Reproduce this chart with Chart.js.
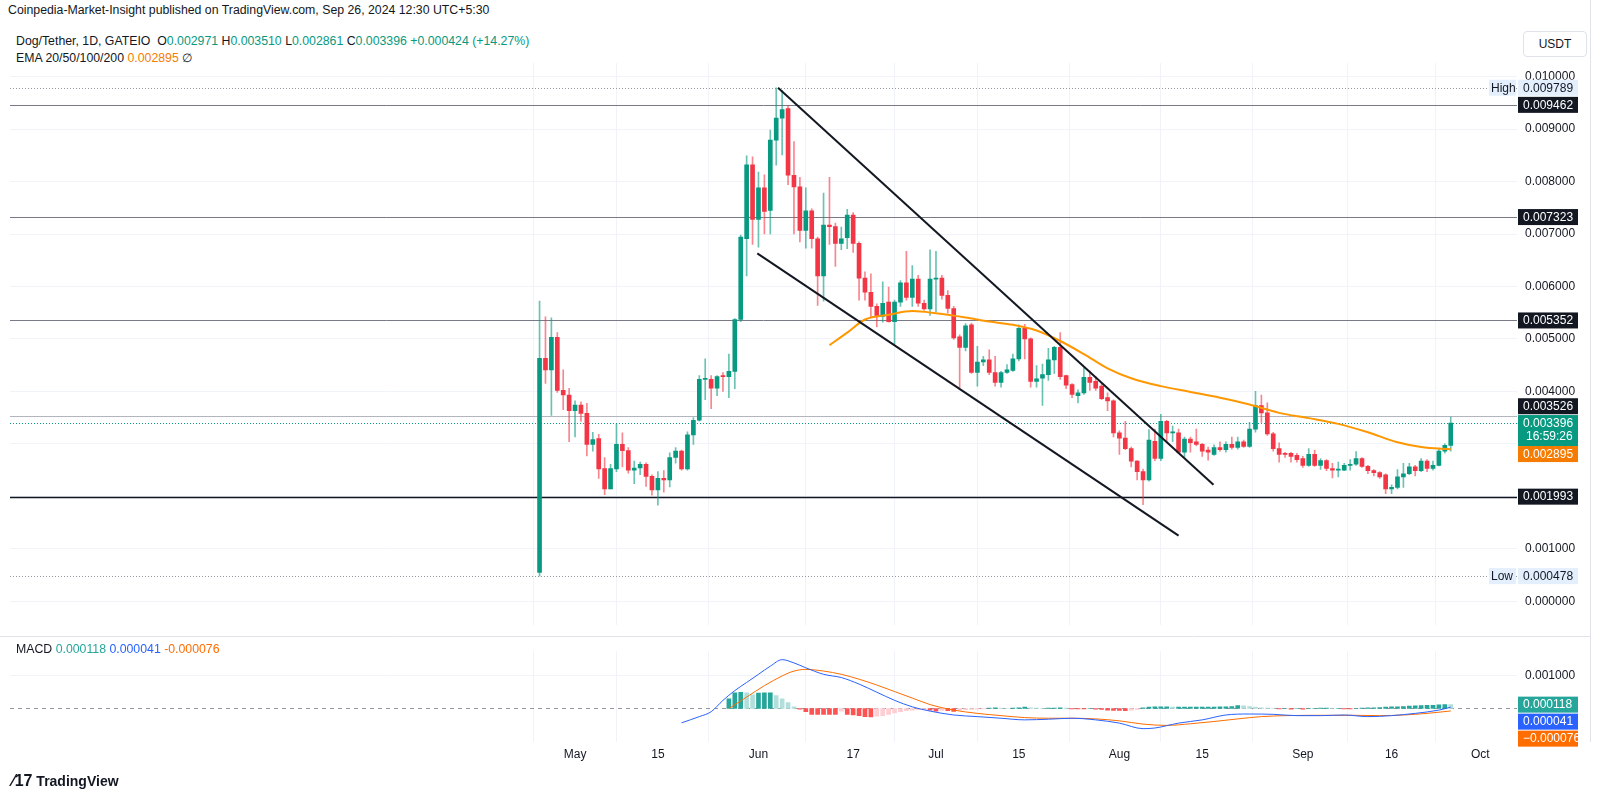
<!DOCTYPE html>
<html><head><meta charset="utf-8">
<script src="https://cdn.jsdelivr.net/npm/chart.js@4.4.1/dist/chart.umd.min.js"></script>
<style>
body{margin:0;width:1600px;height:798px;background:#fff;font-family:"Liberation Sans",Arial,sans-serif;overflow:hidden;position:relative}
.t{position:absolute;white-space:nowrap;color:#131722}
canvas{position:absolute;left:0}
</style></head><body>
<div class="t" style="left:8px;top:3px;font-size:12.3px">Coinpedia-Market-Insight published on TradingView.com, Sep 26, 2024 12:30 UTC+5:30</div>
<div class="t" style="left:16px;top:34px;font-size:12.3px">Dog/Tether, 1D, GATEIO&nbsp; O<span style="color:#089981">0.002971</span> H<span style="color:#089981">0.003510</span> L<span style="color:#089981">0.002861</span> C<span style="color:#089981">0.003396</span> <span style="color:#089981">+0.000424 (+14.27%)</span></div>
<div class="t" style="left:16px;top:51px;font-size:12.3px">EMA 20/50/100/200 <span style="color:#f57c00">0.002895</span> ∅</div>
<div class="t" style="left:1523px;top:31px;width:62px;height:24px;border:1px solid #e0e3eb;border-radius:4px;font-size:12px;line-height:24px;text-align:center">USDT</div>
<div class="t" style="left:16px;top:642px;font-size:12.3px;z-index:3">MACD <span style="color:#26a69a">0.000118</span> <span style="color:#2962ff">0.000041</span> <span style="color:#ff6d00">-0.000076</span></div>
<div class="t" style="left:12px;top:772px;font-size:14px;font-weight:bold;z-index:3"><span style="font-size:16px">⁄17</span> TradingView</div>
<canvas id="c1" width="1600" height="640" style="top:0"></canvas>
<canvas id="c2" width="1600" height="162" style="top:636px"></canvas>
<script>
// day index 0 = 2024-04-25 ; prices in units of 0.001 USDT
const opens=[0.55,4.63,4.41,5.03,4.02,3.93,3.63,3.74,3.58,2.99,3.10,2.53,2.14,2.52,2.99,2.87,2.50,2.54,2.61,2.38,2.12,2.34,2.31,2.74,2.86,2.52,3.17,3.45,4.23,4.23,4.06,4.30,4.28,4.38,5.37,6.91,8.32,7.28,7.88,7.45,8.79,9.21,9.39,8.12,7.90,7.07,7.44,6.91,6.20,7.17,7.14,6.82,6.93,7.36,6.82,6.16,5.89,5.62,5.43,5.70,5.33,5.70,6.07,5.79,6.14,5.68,5.57,6.14,6.16,5.83,5.58,5.04,4.84,5.27,4.36,4.56,4.60,4.36,4.17,4.36,4.40,4.62,5.20,5.00,4.19,4.25,4.32,4.60,4.84,4.30,4.13,3.92,3.97,4.27,4.19,4.10,3.88,3.82,3.21,3.11,2.91,2.67,2.47,2.31,3.05,2.72,3.43,3.21,3.21,2.84,3.09,3.04,2.99,2.88,2.80,2.93,2.89,2.99,2.93,3.04,2.95,3.28,3.73,3.59,3.19,2.91,2.82,2.82,2.78,2.72,2.59,2.80,2.59,2.68,2.53,2.50,2.50,2.59,2.61,2.72,2.57,2.49,2.45,2.41,2.14,2.17,2.37,2.43,2.56,2.49,2.67,2.53,2.59,2.86,2.971];
const highs=[5.72,5.42,5.40,5.12,4.41,4.06,3.82,3.80,3.77,3.22,3.18,2.74,2.61,3.38,3.21,2.93,2.67,2.65,2.64,2.41,2.47,2.49,2.83,2.93,2.88,3.23,3.50,4.30,4.62,4.30,4.30,4.36,4.71,5.39,6.98,8.49,8.47,8.18,8.13,8.98,9.789,9.74,9.45,8.76,8.08,7.88,7.48,6.94,7.78,8.08,7.21,7.13,7.47,7.41,6.85,6.28,6.24,5.67,6.09,5.99,5.74,6.11,6.67,6.40,6.21,5.74,6.70,6.67,6.21,5.92,5.62,5.08,5.29,5.30,4.86,4.67,4.79,4.67,4.38,4.51,4.71,5.27,5.28,5.02,4.49,4.52,4.82,4.86,5.12,4.31,4.15,4.03,4.45,4.39,4.28,4.15,3.97,3.84,3.25,3.43,2.94,2.68,2.52,3.27,3.28,3.56,3.45,3.34,3.28,3.13,3.13,3.28,3.01,2.94,2.98,3.04,3.04,3.13,3.13,3.07,3.41,4.00,3.93,3.78,3.22,3.02,2.84,2.84,2.82,2.76,2.91,2.88,2.72,2.70,2.63,2.65,2.63,2.70,2.85,2.74,2.59,2.51,2.47,2.43,2.22,2.51,2.63,2.63,2.59,2.72,2.70,2.67,2.92,3.00,3.510];
const lows=[0.478,4.15,3.54,3.98,3.65,3.04,3.13,3.43,2.77,2.86,2.34,2.03,2.14,2.47,2.56,2.44,2.24,2.41,2.19,2.02,1.83,2.08,2.18,2.63,2.50,2.50,2.99,3.43,3.84,3.67,3.92,4.00,3.88,4.05,5.33,6.20,6.80,6.75,7.00,7.00,8.31,8.51,7.94,7.00,6.85,6.73,6.73,5.64,5.72,6.80,6.38,6.70,6.72,6.65,5.74,5.74,5.42,5.23,5.32,5.32,4.90,5.62,5.74,5.62,5.62,5.55,5.45,5.52,5.76,5.49,4.99,4.07,4.77,4.34,4.10,4.49,4.32,4.10,4.08,4.34,4.38,4.58,4.62,4.08,4.08,3.73,4.21,4.34,4.23,4.05,3.88,3.78,3.94,4.02,4.02,3.84,3.63,3.13,2.80,2.89,2.56,2.31,1.84,2.29,2.68,2.68,3.04,3.04,2.82,2.74,2.84,2.96,2.76,2.69,2.78,2.86,2.84,2.90,2.90,2.93,2.93,3.22,3.41,3.16,2.86,2.65,2.74,2.65,2.65,2.55,2.57,2.57,2.51,2.49,2.35,2.37,2.49,2.50,2.59,2.55,2.43,2.39,2.34,2.05,2.05,2.14,2.17,2.41,2.39,2.47,2.47,2.50,2.58,2.82,2.861];
const closes=[4.63,4.41,5.03,4.02,3.93,3.63,3.74,3.58,2.99,3.08,2.52,2.14,2.53,2.99,2.87,2.50,2.54,2.61,2.38,2.12,2.34,2.31,2.74,2.86,2.52,3.17,3.45,4.23,4.24,4.06,4.28,4.28,4.38,5.37,6.94,8.32,7.28,7.88,7.43,8.79,9.21,9.37,8.12,7.90,7.07,7.44,6.91,6.20,7.17,7.14,6.82,6.91,7.36,6.82,6.16,5.89,5.62,5.43,5.68,5.33,5.70,6.07,5.79,6.14,5.68,5.57,6.14,6.16,5.83,5.58,5.02,4.84,5.25,4.36,4.56,4.60,4.36,4.17,4.36,4.41,4.62,5.20,5.00,4.19,4.24,4.32,4.60,4.84,4.28,4.12,3.94,3.97,4.27,4.17,4.06,3.86,3.82,3.21,3.11,2.91,2.67,2.47,2.31,3.07,2.72,3.43,3.21,3.23,2.84,3.09,3.02,2.99,2.86,2.84,2.93,2.89,2.99,2.93,3.04,2.95,3.28,3.73,3.59,3.19,2.91,2.80,2.80,2.76,2.70,2.59,2.80,2.59,2.68,2.53,2.50,2.52,2.59,2.61,2.72,2.57,2.49,2.45,2.37,2.14,2.17,2.37,2.43,2.56,2.49,2.67,2.53,2.59,2.86,2.97,3.396];
const emaDays=[49,52,55,59,63,67,72,76,80,84,88,92,96,100,105,110,115,120,125,130,135,140,145,149,154];
const emaValues=[4.88,5.12,5.37,5.46,5.53,5.49,5.41,5.33,5.27,5.16,4.96,4.71,4.44,4.25,4.10,3.99,3.88,3.75,3.59,3.49,3.38,3.22,3.03,2.94,2.895];
const trendUpperDays=[40.3,113.9], trendUpperVals=[9.789,2.22];
const trendLowerDays=[36.8,108], trendLowerVals=[6.63,1.25];
const levels=[9.462,7.323,5.352,3.526,1.993];
const levelColors=['#787b86','#787b86','#787b86','#b2b5be','#131722'];
const highVal=9.789, lowVal=0.478, lastClose=3.396, lastEma=2.895;
const tickDays=[6,20,37,53,67,81,98,112,129,144,159];
const tickLabels=['May','15','Jun','17','Jul','15','Aug','15','Sep','16','Oct'];
const macdDays=[24,27,29,31,33,35,37,39,41,43,45,48,51,54,57,60,63,66,70,74,78,82,86,90,94,98,102,104,108,112,116,120,124,128,132,136,140,144,148,152,154];
const macdVals=[-0.44,-0.25,-0.1,0.25,0.55,0.8,1.05,1.3,1.5,1.4,1.25,1.05,0.95,0.75,0.5,0.25,0.05,-0.08,-0.2,-0.25,-0.3,-0.35,-0.33,-0.3,-0.35,-0.45,-0.62,-0.6,-0.45,-0.35,-0.2,-0.17,-0.18,-0.22,-0.22,-0.2,-0.25,-0.22,-0.15,-0.05,0.041];
const signalDays=[32,35,38,41,43,45,48,51,54,57,60,63,66,70,74,78,82,86,90,94,98,102,106,110,114,118,122,126,130,134,138,142,146,150,154];
const signalVals=[0.0,0.35,0.7,1.0,1.15,1.2,1.15,1.05,0.9,0.72,0.52,0.32,0.12,-0.05,-0.15,-0.22,-0.28,-0.3,-0.3,-0.32,-0.38,-0.48,-0.52,-0.47,-0.4,-0.32,-0.25,-0.22,-0.21,-0.21,-0.21,-0.22,-0.2,-0.15,-0.076];
const histStart=32;
const histVals=[0.30,0.48,0.50,0.48,0.42,0.47,0.48,0.48,0.40,0.30,0.18,0.05,-0.02,-0.10,-0.18,-0.18,-0.18,-0.18,-0.18,-0.08,-0.18,-0.20,-0.22,-0.25,-0.26,-0.24,-0.22,-0.18,-0.14,-0.10,-0.07,-0.05,-0.04,-0.03,-0.05,-0.08,-0.06,-0.07,-0.09,-0.05,-0.04,-0.03,-0.02,-0.01,0.01,0.02,0.01,0.0,0.01,0.02,0.04,0.02,0.01,0.0,0.01,0.01,0.02,0.01,-0.01,-0.01,-0.01,0.0,-0.02,-0.03,-0.05,-0.06,-0.06,-0.07,-0.05,-0.03,0.02,0.04,0.05,0.05,0.05,0.04,0.04,0.04,0.04,0.04,0.04,0.04,0.04,0.05,0.05,0.06,0.09,0.08,0.06,0.04,0.02,0.01,0.0,-0.01,0.0,-0.02,0.0,-0.02,0.0,0.0,0.01,0.01,0.0,0.0,-0.01,-0.01,0.0,0.01,0.02,0.02,0.03,0.04,0.05,0.05,0.06,0.07,0.08,0.09,0.10,0.10,0.11,0.12,0.118];

const XMIN=-89.5, XMAX=165.2, UP='#089981', DN='#f23645', GRID='#f0f3fa';
const fmt=v=>(v/1000).toFixed(6);
const FONT={family:'"Liberation Sans",Arial,sans-serif',size:12};
function xScale(showTicks){return {type:'linear',min:XMIN,max:XMAX,offset:false,
  grid:{color:GRID,drawTicks:false},border:{display:false},
  afterBuildTicks:s=>{s.ticks=tickDays.map(v=>({value:v}));},
  ticks:{display:showTicks,color:'#131722',font:{...FONT,size:12},padding:5,autoSkip:false,maxRotation:0,
    callback:(v)=>{const k=tickDays.indexOf(v);return k<0?'':tickLabels[k];}},
  afterFit:s=>{s.height=showTicks?20:0;}};}

function badge(ctx,y,text,bg,fg,x){ctx.font='12px "Liberation Sans",Arial';const w=60;ctx.fillStyle=bg;ctx.fillRect(x,y-8,w,16);ctx.fillStyle=fg;ctx.textAlign='left';ctx.textBaseline='middle';ctx.fillText(text,x+5,y+0.5);}

const pricePlugin={id:'pp',
  beforeDatasetsDraw(ch){const {ctx,chartArea:a,scales:{y}}=ch;ctx.save();
    levels.forEach((v,i)=>{const py=Math.round(y.getPixelForValue(v))+0.5;ctx.strokeStyle=levelColors[i];ctx.lineWidth=i==4?1.5:1;ctx.beginPath();ctx.moveTo(a.left,py);ctx.lineTo(a.right,py);ctx.stroke();});
    ctx.setLineDash([1,2]);
    [[highVal,'#9598a1'],[lowVal,'#9598a1'],[lastClose,'#089981']].forEach(([v,c])=>{const py=Math.round(y.getPixelForValue(v))+0.5;ctx.strokeStyle=c;ctx.lineWidth=1;ctx.beginPath();ctx.moveTo(a.left,py);ctx.lineTo(a.right,py);ctx.stroke();});
    ctx.restore();},
  afterDraw(ch){const {ctx,chartArea:a,scales:{y}}=ch;ctx.save();const x=a.right+1;
    ctx.strokeStyle='#e0e3eb';ctx.beginPath();ctx.moveTo(1590.5,0);ctx.lineTo(1590.5,640);ctx.stroke();
    levels.forEach((v,i)=>badge(ctx,y.getPixelForValue(v)+(i==3?-10:0),fmt(v),'#131722','#fff',x));
    [[highVal,'High'],[lowVal,'Low']].forEach(([v,t])=>{const py=y.getPixelForValue(v);ctx.fillStyle='#e3effd';ctx.fillRect(a.right-28,py-8,27,16);badge(ctx,py,fmt(v),'#e3effd','#131722',x);ctx.fillStyle='#131722';ctx.textAlign='left';ctx.fillText(t,a.right-26,py+0.5);});
    const pc=y.getPixelForValue(lastClose);ctx.fillStyle=UP;ctx.fillRect(x,pc-8,60,31);ctx.fillStyle='#fff';ctx.textAlign='left';ctx.textBaseline='middle';ctx.fillText(fmt(lastClose),x+5,pc+0.5);ctx.fillText('16:59:26',x+8,pc+14);
    badge(ctx,pc+31,fmt(lastEma),'#f57c00','#fff',x);
    ctx.restore();}};

const n=closes.length;
const bodies=[],wicks=[],bodyCols=[];
for(let i=0;i<n;i++){bodies.push({x:i,y:[opens[i],closes[i]]});wicks.push({x:i,y:[lows[i],highs[i]]});bodyCols.push(closes[i]>=opens[i]?UP:DN);}
new Chart(document.getElementById('c1'),{
  data:{datasets:[
    {type:'line',data:trendUpperDays.map((d,i)=>({x:d,y:trendUpperVals[i]})),borderColor:'#131722',borderWidth:2,pointRadius:0},
    {type:'line',data:trendLowerDays.map((d,i)=>({x:d,y:trendLowerVals[i]})),borderColor:'#131722',borderWidth:2,pointRadius:0},
    {type:'bar',data:wicks,backgroundColor:bodyCols.map(c=>c+'99'),barThickness:1,grouped:false,order:3},
    {type:'bar',data:bodies,backgroundColor:bodyCols,barThickness:4,grouped:false,minBarLength:1,order:2},
    {type:'line',data:emaDays.map((d,i)=>({x:d,y:emaValues[i]})),borderColor:'#ff9800',borderWidth:2,pointRadius:0,tension:0.4,cubicInterpolationMode:'monotone',order:1}
  ]},
  options:{responsive:false,animation:false,devicePixelRatio:1,layout:{padding:{left:10,top:63,right:0,bottom:4}},
    plugins:{legend:{display:false},tooltip:{enabled:false}},
    scales:{x:xScale(false),
      y:{position:'right',min:-0.45,max:10.26,grid:{color:GRID,drawTicks:false},border:{display:false},
        afterBuildTicks:s=>{s.ticks=[0,1,2,3,4,5,6,7,8,9,10].map(v=>({value:v}));},
        ticks:{color:'#131722',font:FONT,padding:8,callback:v=>fmt(v)},afterFit:s=>{s.width=83;}}}},
  plugins:[pricePlugin]});

const histData=histVals.map((v,i)=>({x:histStart+i,y:v}));
const histCols=histVals.map((v,i)=>{const p=i?histVals[i-1]:0;return v>=0?(v>=p?'#26a69a':'#b2dfdb'):(v<=p?'#ff5252':'#ffcdd2');});
const macdPlugin={id:'mp',
  beforeDatasetsDraw(ch){const {ctx,chartArea:a,scales:{y}}=ch;ctx.save();ctx.strokeStyle='#9598a1';ctx.setLineDash([4,4]);const py=Math.round(y.getPixelForValue(0))+0.5;ctx.beginPath();ctx.moveTo(a.left,py);ctx.lineTo(a.right,py);ctx.stroke();ctx.restore();},
  afterDraw(ch){const {ctx,chartArea:a,scales:{y}}=ch;ctx.save();const x=a.right+1;
    ctx.strokeStyle='#e0e3eb';ctx.beginPath();ctx.moveTo(0,0.5);ctx.lineTo(1590,0.5);ctx.stroke();ctx.beginPath();ctx.moveTo(1590.5,0);ctx.lineTo(1590.5,a.bottom);ctx.stroke();
    const b=y.getPixelForValue(0.118);
    badge(ctx,b,'0.000118','#26a69a','#fff',x);badge(ctx,b+17,'0.000041','#2962ff','#fff',x);badge(ctx,b+34,'−0.000076','#ff6d00','#fff',x);
    ctx.restore();}};
new Chart(document.getElementById('c2'),{
  data:{datasets:[
    {type:'bar',data:histData,backgroundColor:histCols,barThickness:4,grouped:false,order:3},
    {type:'line',data:macdDays.map((d,i)=>({x:d,y:macdVals[i]})),borderColor:'#2962ff',borderWidth:1,pointRadius:0,tension:0.4,cubicInterpolationMode:'monotone',order:1},
    {type:'line',data:signalDays.map((d,i)=>({x:d,y:signalVals[i]})),borderColor:'#ff6d00',borderWidth:1,pointRadius:0,tension:0.4,cubicInterpolationMode:'monotone',order:2}
  ]},
  options:{responsive:false,animation:false,devicePixelRatio:1,layout:{padding:{left:10,top:0,right:0,bottom:36}},
    plugins:{legend:{display:false},tooltip:{enabled:false}},
    scales:{x:xScale(true),
      y:{position:'right',min:-1.03,max:1.76,grid:{color:GRID,drawTicks:false},border:{display:false},
        afterBuildTicks:s=>{s.ticks=[{value:1}];},
        ticks:{color:'#131722',font:FONT,padding:8,callback:v=>fmt(v)},afterFit:s=>{s.width=83;}}}},
  plugins:[macdPlugin]});
</script></body></html>
